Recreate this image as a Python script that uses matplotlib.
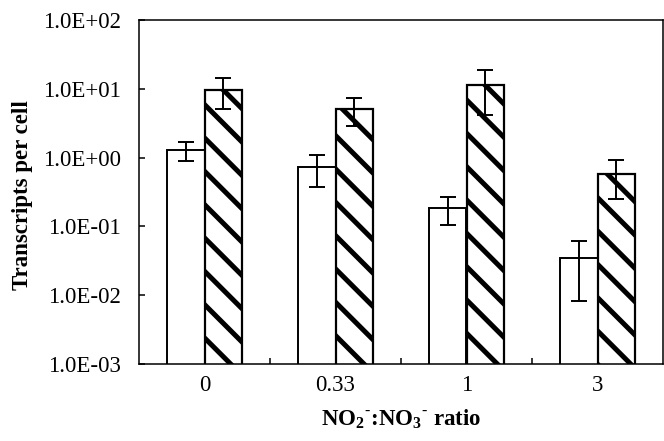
import numpy as np
import matplotlib
matplotlib.use('Agg')
from matplotlib import pyplot as plt
from matplotlib.ticker import FixedLocator, FixedFormatter, NullLocator

plt.rcParams['font.family'] = ['Liberation Serif', 'DejaVu Serif']
plt.rcParams['mathtext.fontset'] = 'custom'
plt.rcParams['mathtext.rm'] = 'Liberation Serif:bold'
plt.rcParams['mathtext.bf'] = 'Liberation Serif:bold'
plt.rcParams['hatch.linewidth'] = 3.6
plt.rcParams['hatch.color'] = 'black'

# data
ratios = ['0', '0.33', '1', '3']
plain_vals = [1.28, 0.73, 0.186, 0.0346]
plain_err = [0.40, 0.36, 0.080, 0.0265]
hatched_vals = [9.7, 5.1, 11.4, 0.58]
hatched_err = [4.6, 2.2, 7.2, 0.33]
y_ticks = [1e-3, 1e-2, 1e-1, 1e0, 1e1, 1e2]
y_tick_labels = ['1.0E-03', '1.0E-02', '1.0E-01', '1.0E+00', '1.0E+01', '1.0E+02']

dpi = 100
fig = plt.figure(figsize=(664 / dpi, 441 / dpi), dpi=dpi)
ax = fig.add_axes([139 / 664, 1 - 364 / 441, 524 / 664, 344 / 441])

x = np.arange(len(ratios))
w = 0.285
ebar = dict(ecolor='black', elinewidth=1.4, capsize=6, capthick=1.4)
ax.bar(x - w / 2, plain_vals, w, color='white', edgecolor='black', linewidth=1.4,
       yerr=plain_err, error_kw=ebar)
ax.bar(x + w / 2, hatched_vals, w, color='white', edgecolor='black', linewidth=1.6, hatch='\\',
       yerr=hatched_err, error_kw=ebar)

ax.set_yscale('log')
ax.set_ylim(1e-3, 1e2)
ax.set_xlim(-0.5, len(ratios) - 0.5)
ax.yaxis.set_major_locator(FixedLocator(y_ticks))
ax.yaxis.set_major_formatter(FixedFormatter(y_tick_labels))
ax.yaxis.set_minor_locator(NullLocator())

ax.set_xticks(x)
ax.set_xticklabels(ratios)
ax.set_xticks(x[:-1] + 0.5, minor=True)
ax.tick_params(axis='x', which='major', length=0, pad=8, labelsize=16.5)
ax.tick_params(axis='x', which='minor', direction='in', length=4.5, width=1.1)
ax.tick_params(axis='y', which='major', direction='in', length=4.5, width=1.1, pad=13, labelsize=16.5)

for s in ax.spines.values():
    s.set_linewidth(1.1)

ax.set_ylabel('Transcripts per cell', fontsize=16.5, fontweight='bold')
ax.yaxis.set_label_coords(-0.202, 0.49)
ax.set_xlabel(r'NO$_{2}$$^{\text{-}}$:NO$_{3}$$^{\text{-}}$ ratio', fontsize=16.5, fontweight='bold', labelpad=8)

fig.savefig('out.png', dpi=dpi)
